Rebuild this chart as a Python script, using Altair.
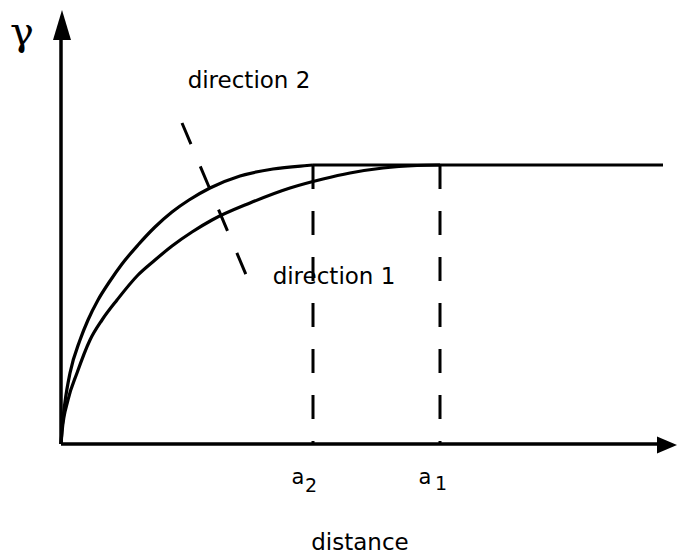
import altair as alt
import pandas as pd

# Semivariogram readings for the two directions (distance, gamma)
dir2_h = [0, 0.01, 0.04, 0.09, 0.19, 0.27, 0.37, 0.49, 0.61, 0.77, 0.94, 1.11, 1.28, 1.49, 1.79, 2.12, 2.46, 2.52]
dir2_g = [0, 0.15, 0.42, 0.71, 1.04, 1.24, 1.44, 1.63, 1.80, 1.99, 2.17, 2.32, 2.44, 2.56, 2.68, 2.75, 2.785, 2.79]
dir1_h = [0, 0.01, 0.07, 0.16, 0.29, 0.41, 0.56, 0.77, 0.94, 1.11, 1.31, 1.51, 1.89, 2.29, 2.62, 2.89, 3.22, 3.56, 3.79]
dir1_g = [0, 0.12, 0.44, 0.71, 1.04, 1.24, 1.44, 1.69, 1.84, 1.98, 2.12, 2.24, 2.41, 2.56, 2.65, 2.71, 2.76, 2.785, 2.79]

sill = 2.79
range_a2 = 2.52
range_a1 = 3.79
sill_end = 6.02
x_axis_end = 5.96
y_axis_end = 4.20

# anisotropy direction marker (dashed diagonal)
diag_x = [1.21, 1.86]
diag_y = [3.21, 1.67]

W, H = 678, 556
xs = alt.Scale(domain=[-0.61, 6.17], range=[0, W], nice=False, zero=False)
ys = alt.Scale(domain=[-1.12, 4.44], range=[H, 0], nice=False, zero=False)


def X(f="x"):
    return alt.X(f"{f}:Q", scale=xs, axis=None)


def Y(f="y"):
    return alt.Y(f"{f}:Q", scale=ys, axis=None)


curves = pd.DataFrame(
    [{"x": h, "y": g, "dir": "direction 2", "i": i} for i, (h, g) in enumerate(zip(dir2_h, dir2_g))]
    + [{"x": h, "y": g, "dir": "direction 1", "i": i} for i, (h, g) in enumerate(zip(dir1_h, dir1_g))]
)

curve_layer = alt.Chart(curves).mark_line(
    color="black", strokeWidth=3.2, interpolate="monotone"
).encode(x=X(), y=Y(), detail="dir:N", order="i:Q")

sill_layer = alt.Chart(pd.DataFrame({"x": [range_a2], "x2": [sill_end], "y": [sill]})).mark_rule(
    color="black", strokeWidth=3.2
).encode(x=X(), x2="x2:Q", y=Y())

axes = pd.DataFrame({
    "x": [0, 0], "y": [0, 0],
    "x2": [x_axis_end, 0], "y2": [0, y_axis_end],
})
axis_layer = alt.Chart(axes).mark_rule(color="black", strokeWidth=3.5).encode(
    x=X(), y=Y(), x2="x2:Q", y2="y2:Q"
)

up_head = alt.Chart(pd.DataFrame({"x": [0.01], "y": [4.19]})).mark_point(
    shape="M0,-1L0.6,1L-0.6,1Z", size=900, filled=True, color="black", opacity=1, strokeWidth=0
).encode(x=X(), y=Y())

right_head = alt.Chart(pd.DataFrame({"x": [6.06], "y": [-0.01]})).mark_point(
    shape="M1,0L-1,0.85L-1,-0.85Z", size=400, filled=True, color="black", opacity=1, strokeWidth=0
).encode(x=X(), y=Y())

ranges = pd.DataFrame({"x": [range_a2, range_a1], "y": [sill, sill], "y2": [0, 0]})
range_layer = alt.Chart(ranges).mark_rule(
    color="black", strokeWidth=3, strokeDash=[24, 22]
).encode(x=X(), y=Y(), y2="y2:Q")

diag_layer = alt.Chart(pd.DataFrame({
    "x": [diag_x[0]], "y": [diag_y[0]], "x2": [diag_x[1]], "y2": [diag_y[1]]
})).mark_rule(color="black", strokeWidth=3, strokeDash=[23, 24]).encode(
    x=X(), y=Y(), x2="x2:Q", y2="y2:Q"
)

sans = "DejaVu Sans"
labels = pd.DataFrame({
    "text": ["direction 2", "direction 1", "distance", "a", "a"],
    "x": [1.88, 2.73, 2.99, 2.37, 3.64],
    "y": [3.56, 1.60, -1.06, -0.40, -0.40],
    "size": [23, 23, 23, 21, 21],
})
label_layer = alt.Chart(labels).mark_text(
    font=sans, color="black", align="center", baseline="alphabetic"
).encode(x=X(), y=Y(), text="text:N", size=alt.Size("size:Q", scale=None))

subs = pd.DataFrame({
    "text": ["2", "1"],
    "x": [2.50, 3.80],
    "y": [-0.48, -0.46],
})
sub_layer = alt.Chart(subs).mark_text(
    font=sans, fontSize=19, color="black", align="center", baseline="alphabetic"
).encode(x=X(), y=Y(), text="text:N")

gamma_layer = alt.Chart(pd.DataFrame({"text": ["γ"], "x": [-0.39], "y": [3.99]})).mark_text(
    font="DejaVu Serif", fontSize=40, color="black", align="center", baseline="alphabetic"
).encode(x=X(), y=Y(), text="text:N")

chart = alt.layer(
    axis_layer, up_head, right_head, range_layer, diag_layer,
    curve_layer, sill_layer, label_layer, sub_layer, gamma_layer
).properties(
    width=W, height=H, autosize=alt.AutoSizeParams(type="none"), padding=0, background="white"
).configure_view(stroke=None)

chart.save("out.html", embed_options={"renderer": "svg", "actions": False})
